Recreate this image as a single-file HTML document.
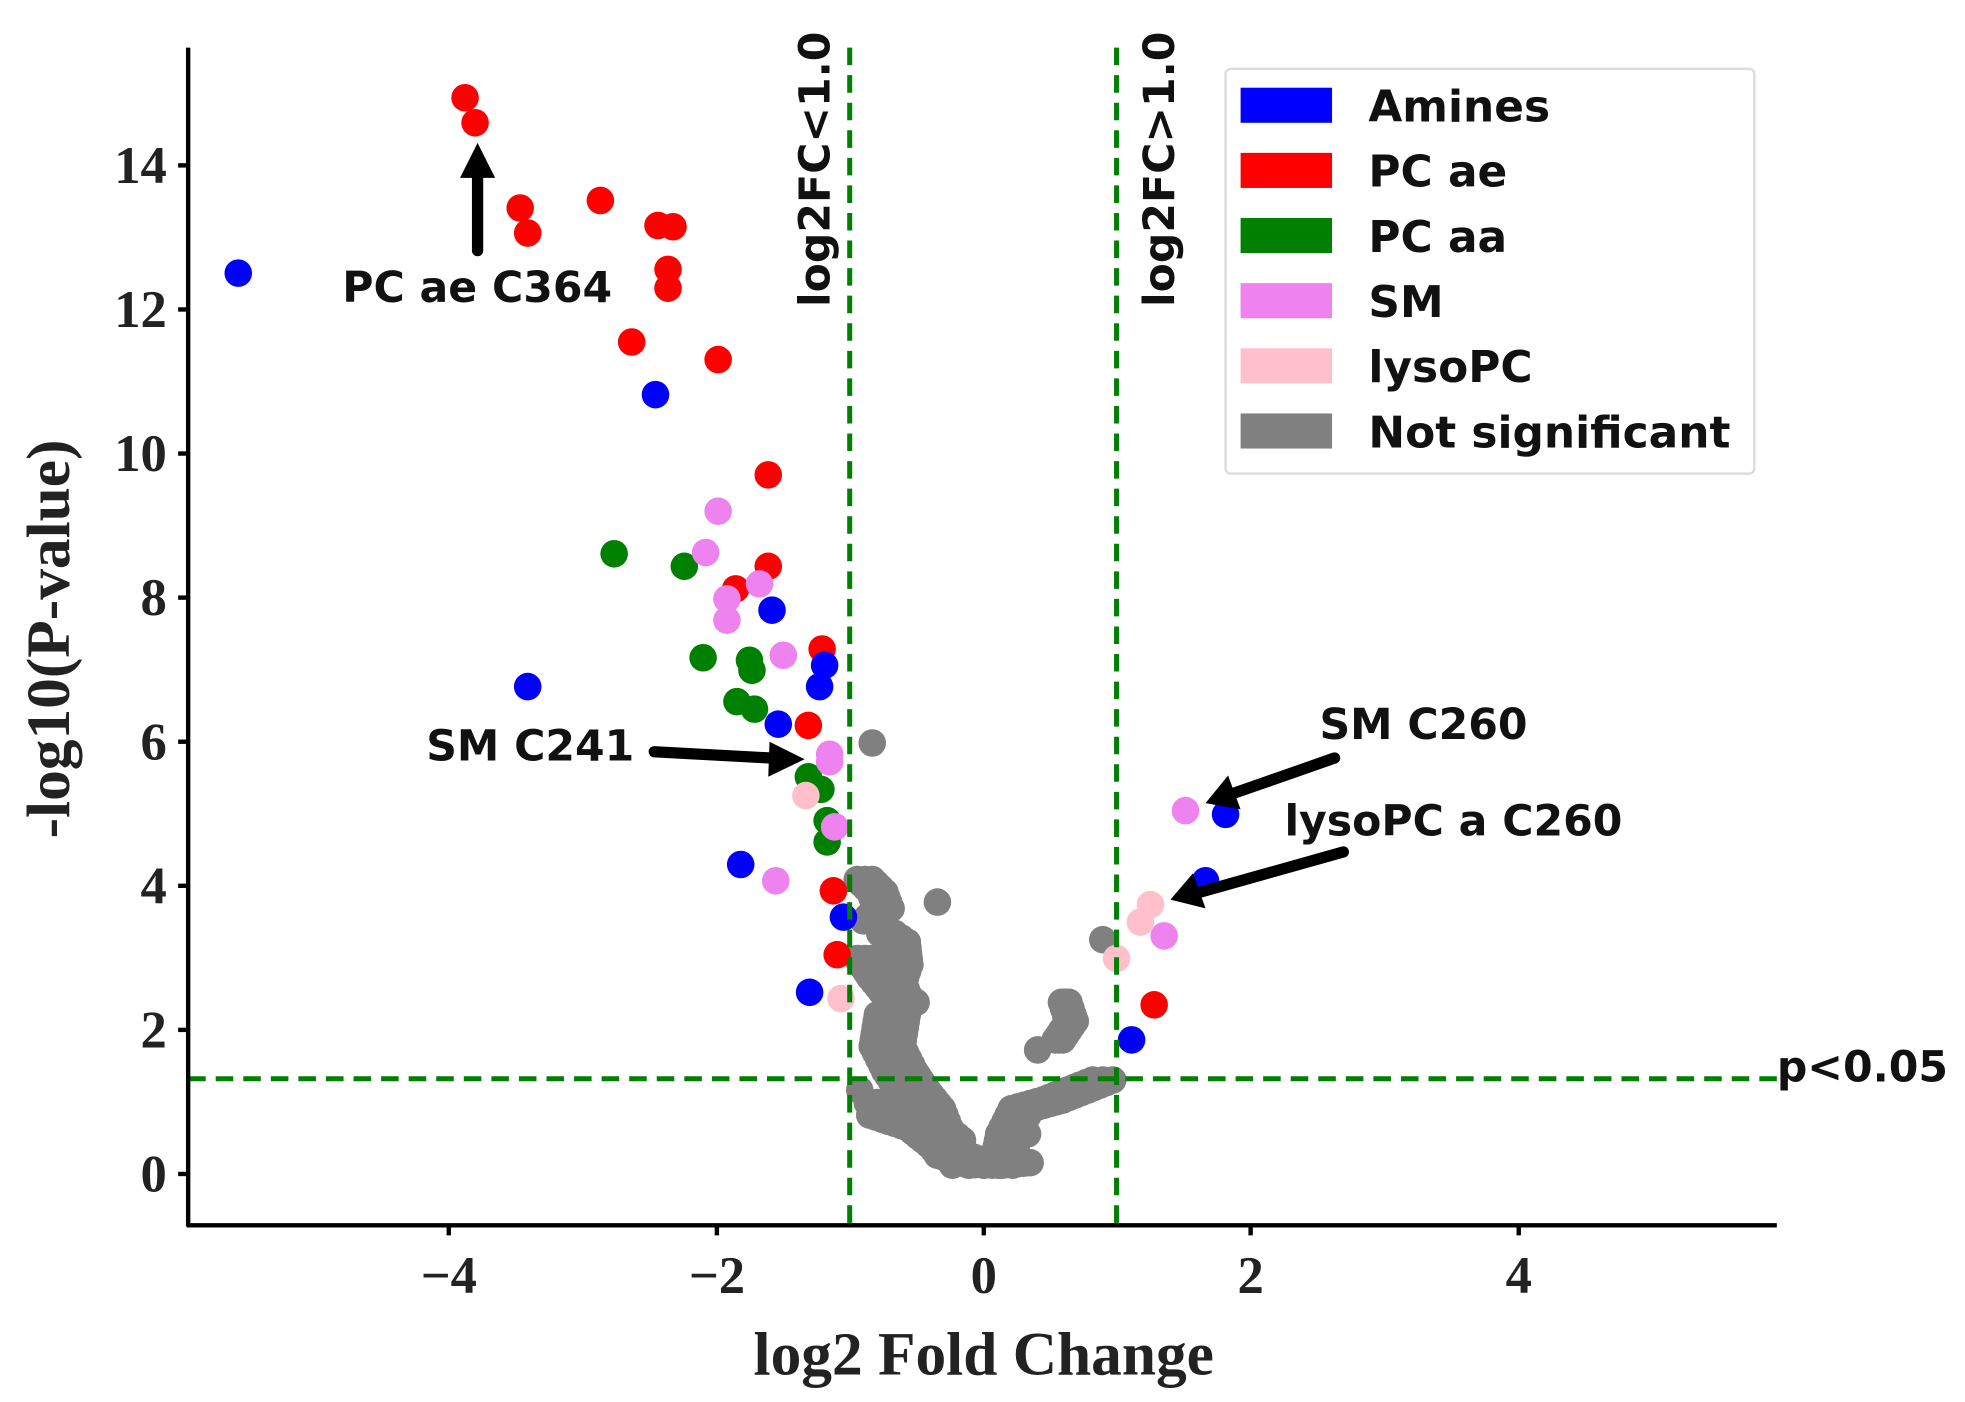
<!DOCTYPE html><html><head><style>body{margin:0;background:#fff}svg{display:block}</style></head><body>
<svg id="s" width="1965" height="1402" viewBox="0 0 1568 1119" xmlns="http://www.w3.org/2000/svg">
<rect width="1568" height="1119" fill="#fff"/>
<g id="pts"></g>
<g stroke="#008000" stroke-width="4" stroke-dasharray="14,8" fill="none">
<line x1="678" y1="38" x2="678" y2="978"/><line x1="891" y1="38" x2="891" y2="978"/>
<line x1="150" y1="861" x2="1418" y2="861"/></g>
<g stroke="#000" stroke-width="3.5"><line x1="150" y1="38" x2="150" y2="979"/><line x1="149" y1="978" x2="1418" y2="978"/>
<line x1="358" y1="978" x2="358" y2="986"/><line x1="572" y1="978" x2="572" y2="986"/><line x1="785" y1="978" x2="785" y2="986"/><line x1="998" y1="978" x2="998" y2="986"/><line x1="1212" y1="978" x2="1212" y2="986"/>
<line x1="142" y1="937" x2="150" y2="937"/><line x1="142" y1="822" x2="150" y2="822"/><line x1="142" y1="707" x2="150" y2="707"/><line x1="142" y1="592" x2="150" y2="592"/><line x1="142" y1="477" x2="150" y2="477"/><line x1="142" y1="362" x2="150" y2="362"/><line x1="142" y1="247" x2="150" y2="247"/><line x1="142" y1="132" x2="150" y2="132"/></g>
<g font-family="Liberation Serif,serif" font-weight="bold" font-size="42" fill="#222">
<g text-anchor="middle"><text x="358" y="1032">−4</text><text x="572" y="1032">−2</text><text x="785" y="1032">0</text><text x="998" y="1032">2</text><text x="1212" y="1032">4</text></g>
<g text-anchor="end"><text x="133" y="951">0</text><text x="133" y="836">2</text><text x="133" y="721">4</text><text x="133" y="606">6</text><text x="133" y="491">8</text><text x="133" y="376">10</text><text x="133" y="261">12</text><text x="133" y="146">14</text></g>
<text x="785" y="1097" text-anchor="middle" font-size="49">log2 Fold Change</text>
<text transform="translate(55,510) rotate(-90)" text-anchor="middle" font-size="49">-log10(P-value)</text></g>
<g stroke="#000" stroke-width="9" stroke-linecap="round"><line x1="381" y1="200" x2="381" y2="140"/><line x1="522" y1="600" x2="615" y2="605"/><line x1="1065" y1="605" x2="985" y2="633"/><line x1="1072" y1="680" x2="958" y2="712"/></g>
<g fill="#000"><polygon points="381,114 367,142 395,142"/><polygon points="642,606 614,592 613,620"/><polygon points="962,641 980,619 990,646"/><polygon points="934,718 952,697 962,725"/></g>
<g font-family="DejaVu Sans,sans-serif" font-weight="bold" font-size="34" fill="#111">
<text x="273" y="241">PC ae C364</text><text x="340" y="607">SM C241</text><text x="1053" y="590">SM C260</text><text x="1025" y="667">lysoPC a C260</text><text x="1418" y="863">p&lt;0.05</text>
<text transform="translate(662,245) rotate(-90)">log2FC&lt;1.0</text><text transform="translate(937,245) rotate(-90)">log2FC&gt;1.0</text></g>
<rect x="978" y="55" width="422" height="323" rx="4" fill="#fff" fill-opacity="0.85" stroke="#ddd" stroke-width="2"/>
<g><rect x="990" y="70" width="73" height="28" fill="#0000ff"/><rect x="990" y="122" width="73" height="28" fill="#ff0000"/><rect x="990" y="174" width="73" height="28" fill="#008000"/><rect x="990" y="226" width="73" height="28" fill="#ee82ee"/><rect x="990" y="278" width="73" height="28" fill="#ffc0cb"/><rect x="990" y="330" width="73" height="28" fill="#808080"/></g>
<g font-family="DejaVu Sans,sans-serif" font-weight="bold" font-size="35" fill="#111"><text x="1092" y="97">Amines</text><text x="1092" y="149">PC ae</text><text x="1092" y="201">PC aa</text><text x="1092" y="253">SM</text><text x="1092" y="305">lysoPC</text><text x="1092" y="357">Not significant</text></g>
</svg>
<script>
var g=document.getElementById('pts'),ns='http://www.w3.org/2000/svg';
function c(x,y,f){var e=document.createElementNS(ns,'circle');e.setAttribute('cx',x);e.setAttribute('cy',y);e.setAttribute('r',11);e.setAttribute('fill',f);g.appendChild(e);}
function path(p,f,step,w){w=w||0;for(var i=0;i<p.length-1;i++){var a=p[i],b=p[i+1],d=Math.hypot(b[0]-a[0],b[1]-a[1]),n=Math.max(1,Math.round(d/step));for(var k=0;k<=n;k++){var x=a[0]+(b[0]-a[0])*k/n,y=a[1]+(b[1]-a[1])*k/n;c(x,y,f);if(w){c(x-w,y,f);c(x+w,y,f);}}}}
var G='#808080';
path([[690,702],[700,712],[705,725],[695,735]],G,5,6);
path([[708,745],[718,752],[720,770],[715,785],[722,800]],G,5,6);
path([[690,765],[700,780],[712,795],[725,800]],G,5,6);
path([[712,810],[708,835],[718,855],[728,870],[740,885],[748,905],[760,922],[785,930],[810,928]],G,5,12);
path([[700,880],[730,885],[760,910]],G,5,8);
path([[700,890],[730,900],[755,920]],G,5,6);
path([[800,930],[805,905],[815,885],[840,878],[860,870],[880,862]],G,5,8);
path([[850,800],[855,815],[845,830]],G,5,3);
c(696,593,G);c(748,720,G);c(828,838,G);c(880,750,G);c(686,870,G);c(802,915,G);c(760,930,G);c(820,905,G);
var L=[['#ff0000',[[371,78],[379,98],[415,166],[421,186],[479,160],[525,180],[537,181],[533,215],[533,230],[504,273],[573,287],[613,379],[613,452],[587,470],[656,518],[645,579],[665,711],[668,762],[921,802]]],
['#008000',[[490,442],[546,452],[561,525],[598,527],[600,535],[588,560],[602,566],[645,620],[655,630],[660,655],[660,672],[666,660]]],
['#ee82ee',[[573,408],[563,441],[606,466],[580,478],[580,495],[625,523],[662,602],[662,608],[619,703],[946,647],[929,747],[666,660]]],
['#ffc0cb',[[643,635],[671,797],[918,722],[910,736],[891,765]]],
['#0000ff',[[190,218],[523,315],[421,548],[616,487],[658,531],[654,548],[621,578],[591,690],[673,732],[646,792],[978,650],[962,703],[903,830]]]];
L.forEach(function(s){s[1].forEach(function(p){c(p[0],p[1],s[0]);});});
</script>
</body></html>
